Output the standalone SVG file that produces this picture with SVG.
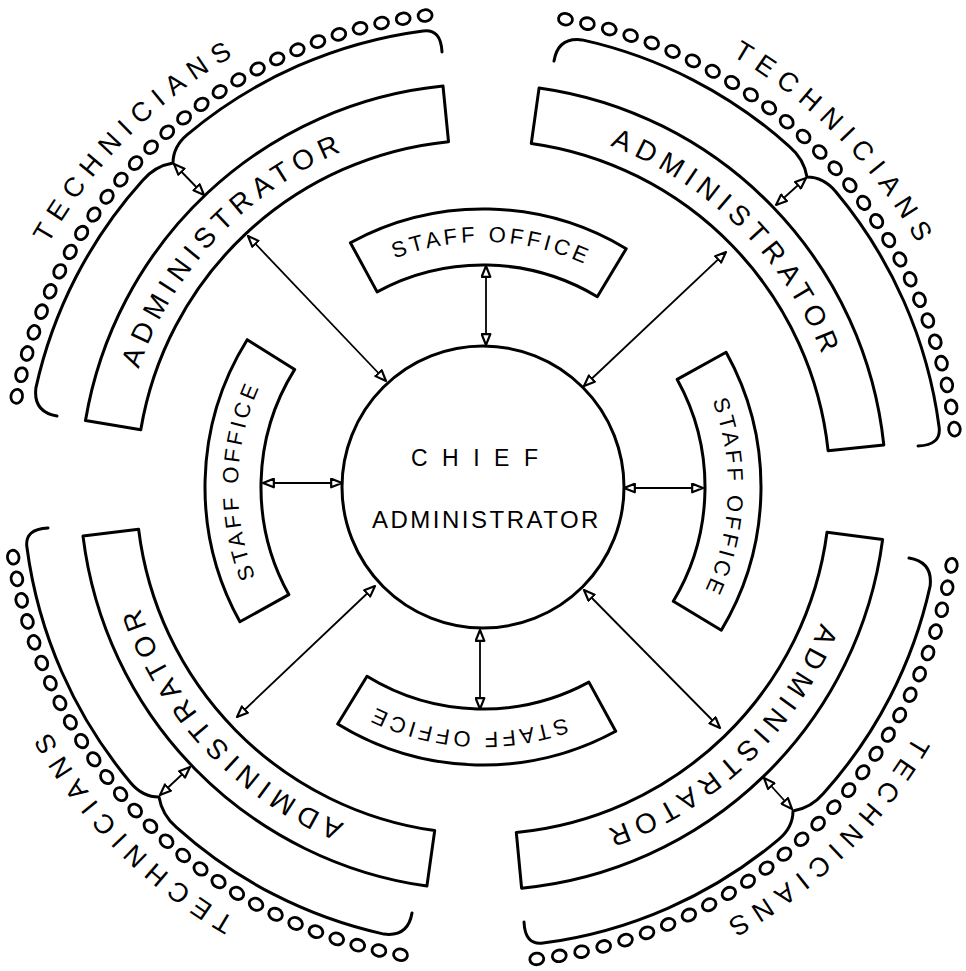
<svg xmlns="http://www.w3.org/2000/svg" xmlns:xlink="http://www.w3.org/1999/xlink" width="966" height="971" viewBox="0 0 966 971">
<style>
.shape{fill:#fff;stroke:#000;stroke-width:3;stroke-linejoin:round}
.brace{fill:none;stroke:#000;stroke-width:3;stroke-linecap:round;stroke-linejoin:round}
.o{fill:none;stroke:#000;stroke-width:2.8}
.conn{fill:none;stroke:#000;stroke-width:1.8;marker-start:url(#ah);marker-end:url(#ah)}
text{font-family:"Liberation Sans",Arial,sans-serif;fill:#000}
.t-admin{font-size:28px;letter-spacing:6.4px}
.t-staff{font-size:22px;letter-spacing:3.6px}
.t-tech{font-size:27px;letter-spacing:8.4px}
</style>
<defs>
<marker id="ah" viewBox="0 0 12 10" refX="11" refY="5" markerWidth="13" markerHeight="11" markerUnits="userSpaceOnUse" orient="auto-start-reverse">
<path d="M1,1 L11,5 L1,9 Z" fill="#fff" stroke="#000" stroke-width="2" stroke-linejoin="round"/>
</marker>
<path id="p-admin" d="M 140.95 362.5 A 364 364 0 0 1 825.05 362.5" fill="none"/>
<path id="p-staff" d="M 252.78 403.21 A 245 245 0 0 1 713.22 403.21" fill="none"/>
<path id="p-tech" d="M 15.03 316.67 A 498 498 0 0 1 950.97 316.67" fill="none"/>
<path id="brace" class="brace" d="M 57 416 Q 33 412 35.9 387.9 A 458 458 0 0 1 142.6 180.5 Q 155 166 173 163 Q 173 146.6 187.3 134.6 A 460 460 0 0 1 423 30.9 Q 441 28.5 442 52"/>
<ellipse id="tech-o" class="o" cx="483" cy="12" rx="7" ry="5.8"/>
</defs>
<rect width="966" height="971" fill="#fff"/>

<g id="chief-administrator">
<circle class="shape" cx="483" cy="487" r="141"/>
<text x="411" y="466" font-size="23" letter-spacing="14.5">CHIEF</text>
<text x="372" y="528" font-size="24" letter-spacing="2.5">ADMINISTRATOR</text>
</g>

<g id="staff-office-top">
<path class="shape" d="M 350.4 242.7 A 278 278 0 0 1 626.2 248.7 L 597.3 296.7 A 222 222 0 0 0 377.1 291.9 Z"/>
<text class="t-staff" text-anchor="middle" transform="rotate(2 483 487)"><textPath xlink:href="#p-staff" href="#p-staff" startOffset="50%">STAFF OFFICE</textPath></text>
</g>
<g id="staff-office-right">
<path class="shape" d="M 726.1 352.2 A 278 278 0 0 1 721.3 630.2 L 673.3 601.3 A 222 222 0 0 0 677.2 379.4 Z"/>
<text class="t-staff" text-anchor="middle" transform="rotate(92.5 483 487)"><textPath xlink:href="#p-staff" href="#p-staff" startOffset="50%">STAFF OFFICE</textPath></text>
</g>
<g id="staff-office-bottom">
<path class="shape" d="M 615.7 731.3 A 278 278 0 0 1 337.7 724 L 367 676.3 A 222 222 0 0 0 588.9 682.1 Z"/>
<text class="t-staff" text-anchor="middle" transform="rotate(183.5 483 487)"><textPath xlink:href="#p-staff" href="#p-staff" startOffset="50%">STAFF OFFICE</textPath></text>
</g>
<g id="staff-office-left">
<path class="shape" d="M 239.9 621.8 A 278 278 0 0 1 247.2 339.7 L 294.7 369.4 A 222 222 0 0 0 288.8 594.6 Z"/>
<text class="t-staff" text-anchor="middle" transform="rotate(271.5 483 487)"><textPath xlink:href="#p-staff" href="#p-staff" startOffset="50%">STAFF OFFICE</textPath></text>
</g>

<g id="administrator-tl">
<path class="shape" d="M 85.5 420.5 A 403 403 0 0 1 443 86 L 448.5 141.7 A 347 347 0 0 0 140.8 429.7 Z"/>
<text class="t-admin" text-anchor="middle" transform="rotate(-46.5 483 487)"><textPath xlink:href="#p-admin" href="#p-admin" startOffset="50%">ADMINISTRATOR</textPath></text>
</g>
<g id="administrator-tr">
<path class="shape" d="M 539.1 87.9 A 403 403 0 0 1 883.8 444.9 L 828.1 450.7 A 347 347 0 0 0 531.3 143.4 Z"/>
<text class="t-admin" text-anchor="middle" transform="rotate(45 483 487)"><textPath xlink:href="#p-admin" href="#p-admin" startOffset="50%">ADMINISTRATOR</textPath></text>
</g>
<g id="administrator-br">
<path class="shape" d="M 882.6 539.6 A 403 403 0 0 1 521.6 888.2 L 516.3 832.4 A 347 347 0 0 0 827 532.3 Z"/>
<text class="t-admin" text-anchor="middle" transform="rotate(136.5 483 487)"><textPath xlink:href="#p-admin" href="#p-admin" startOffset="50%">ADMINISTRATOR</textPath></text>
</g>
<g id="administrator-bl">
<path class="shape" d="M 426.9 886.1 A 403 403 0 0 1 83 536.1 L 138.6 529.3 A 347 347 0 0 0 434.7 830.6 Z"/>
<text class="t-admin" text-anchor="middle" transform="rotate(227 483 487)"><textPath xlink:href="#p-admin" href="#p-admin" startOffset="50%">ADMINISTRATOR</textPath></text>
</g>

<g id="technicians-tl">
<use href="#brace" xlink:href="#brace"/>
<use href="#tech-o" transform="rotate(-79 483 487)"/><use href="#tech-o" transform="rotate(-76.33 483 487)"/><use href="#tech-o" transform="rotate(-73.67 483 487)"/><use href="#tech-o" transform="rotate(-71 483 487)"/><use href="#tech-o" transform="rotate(-68.33 483 487)"/><use href="#tech-o" transform="rotate(-65.67 483 487)"/><use href="#tech-o" transform="rotate(-63 483 487)"/><use href="#tech-o" transform="rotate(-60.33 483 487)"/><use href="#tech-o" transform="rotate(-57.67 483 487)"/><use href="#tech-o" transform="rotate(-55 483 487)"/><use href="#tech-o" transform="rotate(-52.33 483 487)"/><use href="#tech-o" transform="rotate(-49.67 483 487)"/><use href="#tech-o" transform="rotate(-47 483 487)"/><use href="#tech-o" transform="rotate(-44.33 483 487)"/><use href="#tech-o" transform="rotate(-41.67 483 487)"/><use href="#tech-o" transform="rotate(-39 483 487)"/><use href="#tech-o" transform="rotate(-36.33 483 487)"/><use href="#tech-o" transform="rotate(-33.67 483 487)"/><use href="#tech-o" transform="rotate(-31 483 487)"/><use href="#tech-o" transform="rotate(-28.33 483 487)"/><use href="#tech-o" transform="rotate(-25.67 483 487)"/><use href="#tech-o" transform="rotate(-23 483 487)"/><use href="#tech-o" transform="rotate(-20.33 483 487)"/><use href="#tech-o" transform="rotate(-17.67 483 487)"/><use href="#tech-o" transform="rotate(-15 483 487)"/><use href="#tech-o" transform="rotate(-12.33 483 487)"/><use href="#tech-o" transform="rotate(-9.67 483 487)"/><use href="#tech-o" transform="rotate(-7 483 487)"/>
<text class="t-tech" text-anchor="middle" transform="rotate(-45 483 487)"><textPath xlink:href="#p-tech" href="#p-tech" startOffset="50%">TECHNICIANS</textPath></text>
</g>
<g id="technicians-tr">
<use href="#brace" transform="rotate(90 483 487)"/>
<use href="#tech-o" transform="rotate(10 483 487)"/><use href="#tech-o" transform="rotate(12.7 483 487)"/><use href="#tech-o" transform="rotate(15.41 483 487)"/><use href="#tech-o" transform="rotate(18.11 483 487)"/><use href="#tech-o" transform="rotate(20.81 483 487)"/><use href="#tech-o" transform="rotate(23.52 483 487)"/><use href="#tech-o" transform="rotate(26.22 483 487)"/><use href="#tech-o" transform="rotate(28.93 483 487)"/><use href="#tech-o" transform="rotate(31.63 483 487)"/><use href="#tech-o" transform="rotate(34.33 483 487)"/><use href="#tech-o" transform="rotate(37.04 483 487)"/><use href="#tech-o" transform="rotate(39.74 483 487)"/><use href="#tech-o" transform="rotate(42.44 483 487)"/><use href="#tech-o" transform="rotate(45.15 483 487)"/><use href="#tech-o" transform="rotate(47.85 483 487)"/><use href="#tech-o" transform="rotate(50.56 483 487)"/><use href="#tech-o" transform="rotate(53.26 483 487)"/><use href="#tech-o" transform="rotate(55.96 483 487)"/><use href="#tech-o" transform="rotate(58.67 483 487)"/><use href="#tech-o" transform="rotate(61.37 483 487)"/><use href="#tech-o" transform="rotate(64.07 483 487)"/><use href="#tech-o" transform="rotate(66.78 483 487)"/><use href="#tech-o" transform="rotate(69.48 483 487)"/><use href="#tech-o" transform="rotate(72.19 483 487)"/><use href="#tech-o" transform="rotate(74.89 483 487)"/><use href="#tech-o" transform="rotate(77.59 483 487)"/><use href="#tech-o" transform="rotate(80.3 483 487)"/><use href="#tech-o" transform="rotate(83 483 487)"/>
<text class="t-tech" text-anchor="middle" transform="rotate(45.8 483 487)"><textPath xlink:href="#p-tech" href="#p-tech" startOffset="50%">TECHNICIANS</textPath></text>
</g>
<g id="technicians-br">
<use href="#brace" transform="rotate(180 483 487)"/>
<use href="#tech-o" transform="rotate(99.5 483 487)"/><use href="#tech-o" transform="rotate(102.24 483 487)"/><use href="#tech-o" transform="rotate(104.98 483 487)"/><use href="#tech-o" transform="rotate(107.72 483 487)"/><use href="#tech-o" transform="rotate(110.46 483 487)"/><use href="#tech-o" transform="rotate(113.2 483 487)"/><use href="#tech-o" transform="rotate(115.94 483 487)"/><use href="#tech-o" transform="rotate(118.69 483 487)"/><use href="#tech-o" transform="rotate(121.43 483 487)"/><use href="#tech-o" transform="rotate(124.17 483 487)"/><use href="#tech-o" transform="rotate(126.91 483 487)"/><use href="#tech-o" transform="rotate(129.65 483 487)"/><use href="#tech-o" transform="rotate(132.39 483 487)"/><use href="#tech-o" transform="rotate(135.13 483 487)"/><use href="#tech-o" transform="rotate(137.87 483 487)"/><use href="#tech-o" transform="rotate(140.61 483 487)"/><use href="#tech-o" transform="rotate(143.35 483 487)"/><use href="#tech-o" transform="rotate(146.09 483 487)"/><use href="#tech-o" transform="rotate(148.83 483 487)"/><use href="#tech-o" transform="rotate(151.57 483 487)"/><use href="#tech-o" transform="rotate(154.31 483 487)"/><use href="#tech-o" transform="rotate(157.06 483 487)"/><use href="#tech-o" transform="rotate(159.8 483 487)"/><use href="#tech-o" transform="rotate(162.54 483 487)"/><use href="#tech-o" transform="rotate(165.28 483 487)"/><use href="#tech-o" transform="rotate(168.02 483 487)"/><use href="#tech-o" transform="rotate(170.76 483 487)"/><use href="#tech-o" transform="rotate(173.5 483 487)"/>
<text class="t-tech" text-anchor="middle" transform="rotate(135.8 483 487)"><textPath xlink:href="#p-tech" href="#p-tech" startOffset="50%">TECHNICIANS</textPath></text>
</g>
<g id="technicians-bl">
<use href="#brace" transform="rotate(270 483 487)"/>
<use href="#tech-o" transform="rotate(190 483 487)"/><use href="#tech-o" transform="rotate(192.65 483 487)"/><use href="#tech-o" transform="rotate(195.3 483 487)"/><use href="#tech-o" transform="rotate(197.94 483 487)"/><use href="#tech-o" transform="rotate(200.59 483 487)"/><use href="#tech-o" transform="rotate(203.24 483 487)"/><use href="#tech-o" transform="rotate(205.89 483 487)"/><use href="#tech-o" transform="rotate(208.54 483 487)"/><use href="#tech-o" transform="rotate(211.19 483 487)"/><use href="#tech-o" transform="rotate(213.83 483 487)"/><use href="#tech-o" transform="rotate(216.48 483 487)"/><use href="#tech-o" transform="rotate(219.13 483 487)"/><use href="#tech-o" transform="rotate(221.78 483 487)"/><use href="#tech-o" transform="rotate(224.43 483 487)"/><use href="#tech-o" transform="rotate(227.07 483 487)"/><use href="#tech-o" transform="rotate(229.72 483 487)"/><use href="#tech-o" transform="rotate(232.37 483 487)"/><use href="#tech-o" transform="rotate(235.02 483 487)"/><use href="#tech-o" transform="rotate(237.67 483 487)"/><use href="#tech-o" transform="rotate(240.31 483 487)"/><use href="#tech-o" transform="rotate(242.96 483 487)"/><use href="#tech-o" transform="rotate(245.61 483 487)"/><use href="#tech-o" transform="rotate(248.26 483 487)"/><use href="#tech-o" transform="rotate(250.91 483 487)"/><use href="#tech-o" transform="rotate(253.56 483 487)"/><use href="#tech-o" transform="rotate(256.2 483 487)"/><use href="#tech-o" transform="rotate(258.85 483 487)"/><use href="#tech-o" transform="rotate(261.5 483 487)"/>
<text class="t-tech" text-anchor="middle" transform="rotate(225.7 483 487)"><textPath xlink:href="#p-tech" href="#p-tech" startOffset="50%">TECHNICIANS</textPath></text>
</g>

<g id="connectors">
<line class="conn" x1="486" y1="266" x2="486" y2="345"/>
<line class="conn" x1="263" y1="483" x2="342" y2="483"/>
<line class="conn" x1="624" y1="488" x2="703" y2="488"/>
<line class="conn" x1="480" y1="630" x2="480" y2="709"/>
<line class="conn" x1="248" y1="236" x2="386" y2="381"/>
<line class="conn" x1="726" y1="252" x2="584" y2="386"/>
<line class="conn" x1="584" y1="590" x2="720" y2="728"/>
<line class="conn" x1="375" y1="586" x2="237" y2="717"/>
<line class="conn" x1="204" y1="195" x2="174" y2="164"/>
<line class="conn" x1="776" y1="205" x2="806" y2="178"/>
<line class="conn" x1="764" y1="778" x2="792" y2="809"/>
<line class="conn" x1="190" y1="767" x2="160" y2="795"/>
</g>
</svg>
